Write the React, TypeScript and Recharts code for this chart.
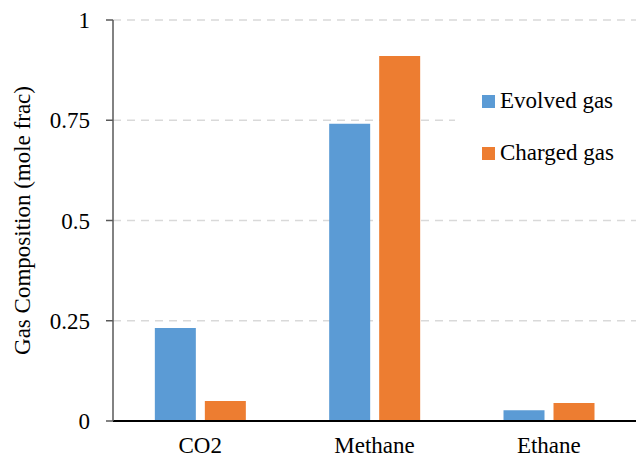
import React from 'react';
import {BarChart, Bar, XAxis, YAxis, CartesianGrid} from 'recharts';

const gases = ['CO2', 'Methane', 'Ethane'];
const evolvedGas = [0.232, 0.741, 0.027];
const chargedGas = [0.05, 0.91, 0.045];
const yTicks = [0, 0.25, 0.5, 0.75, 1];

const data = gases.map((name, i) => ({
  name,
  evolved: evolvedGas[i],
  charged: chargedGas[i],
}));

const FONT = 'Liberation Serif, Tinos, Times New Roman, DejaVu Serif, serif';

const legendItems = [
  {label: 'Evolved gas', color: '#5B9BD5', top: 29},
  {label: 'Charged gas', color: '#ED7D31', top: 81},
];

export default function App() {
  return (
    <div style={{position: 'absolute', left: 0, top: 0, width: 641, height: 458, background: '#fff'}}>
      <BarChart
        width={641}
        height={458}
        data={data}
        margin={{top: 20, right: 5, bottom: 0, left: 0}}
        barCategoryGap="24%"
        barGap={9}
      >
        <CartesianGrid
          vertical={false}
          stroke="#d9d9d9"
          strokeWidth={1.5}
          strokeDasharray="8 6"
        />
        <XAxis
          dataKey="name"
          height={37}
          tickLine={false}
          tickSize={6}
          axisLine={{stroke: '#000', strokeWidth: 2}}
          tick={{fontFamily: FONT, fontSize: 23, fill: '#000'}}
          tickMargin={10}
        />
        <YAxis
          width={113}
          domain={[0, 1]}
          ticks={yTicks}
          tickSize={7}
          tickMargin={16}
          axisLine={{stroke: '#595959', strokeWidth: 1.5}}
          tickLine={{stroke: '#595959', strokeWidth: 1.5}}
          tick={{fontFamily: FONT, fontSize: 23, fill: '#000'}}
          label={{
            value: 'Gas Composition (mole frac)',
            angle: -90,
            position: 'insideLeft',
            offset: 22,
            style: {fontFamily: FONT, fontSize: 23, fill: '#000', textAnchor: 'middle'},
          }}
        />
        <Bar dataKey="evolved" name="Evolved gas" fill="#5B9BD5" isAnimationActive={false} />
        <Bar dataKey="charged" name="Charged gas" fill="#ED7D31" isAnimationActive={false} />
      </BarChart>
      <div
        style={{
          position: 'absolute',
          left: 455,
          top: 66,
          width: 181,
          height: 112,
          background: '#fff',
          fontFamily: FONT,
          fontSize: 23,
          color: '#000',
        }}
      >
        {legendItems.map(item => (
          <React.Fragment key={item.label}>
            <span
              style={{
                position: 'absolute',
                left: 27,
                top: item.top,
                width: 13,
                height: 13,
                background: item.color,
              }}
            />
            <span
              style={{
                position: 'absolute',
                left: 45,
                top: item.top - 6,
                lineHeight: '23px',
                whiteSpace: 'nowrap',
              }}
            >
              {item.label}
            </span>
          </React.Fragment>
        ))}
      </div>
    </div>
  );
}
